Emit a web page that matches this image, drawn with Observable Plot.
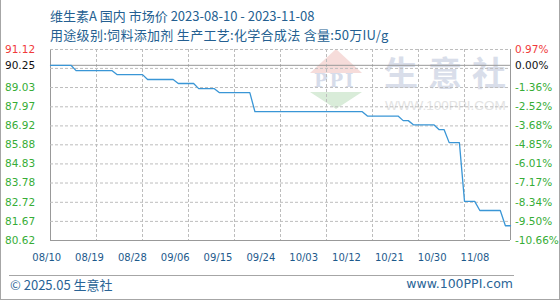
<!DOCTYPE html>
<html><head><meta charset="utf-8">
<script src="https://cdn.jsdelivr.net/npm/d3@7"></script>
<script src="https://cdn.jsdelivr.net/npm/@observablehq/plot@0.6"></script>
<style>
body{margin:0;background:#fff;}
#wrap{position:relative;width:560px;height:300px;overflow:hidden;font-family:"Noto Sans CJK SC",sans-serif;background:#fff;}
#bd{position:absolute;left:0;top:0;width:560px;height:300px;box-sizing:border-box;border:1px solid #a6a6a6;border-top:none;pointer-events:none;}
.t{position:absolute;left:50px;color:#245f91;font-size:13px;white-space:nowrap;line-height:1;}
#wm{position:absolute;left:50px;top:49px;width:460px;height:191px;}
.tri-up{position:absolute;left:260px;top:0px;width:0;height:0;border-left:26px solid transparent;border-right:26px solid transparent;border-bottom:24px solid #f6dcda;}
.tri-dn{position:absolute;left:260px;top:43px;width:0;height:0;border-left:26px solid transparent;border-right:26px solid transparent;border-top:17px solid #d9ecd9;}
.ppi{position:absolute;left:264px;top:23px;font-family:"DejaVu Serif",serif;font-weight:bold;font-size:18px;color:#d6dcea;letter-spacing:2px;line-height:1;}
.wmc{position:absolute;left:334px;top:4px;font-size:34px;color:#d9deea;line-height:1.1;font-weight:bold;white-space:nowrap;}
.wmu{position:absolute;left:335px;top:50px;font-family:"Liberation Sans",sans-serif;font-size:13.5px;color:#e3e3e3;white-space:nowrap;line-height:1;}
#chart{position:absolute;left:0;top:0;}
#xax{position:absolute;left:0;top:249px;}
#sep{position:absolute;left:9px;top:275px;width:505px;height:1px;background:#a6a6a6;}
.ft{position:absolute;top:278px;color:#2a6496;font-size:13px;line-height:1;white-space:nowrap;}
</style></head><body>
<div id="wrap">
  <div id="wm">
    <div class="tri-up"></div><div class="ppi">PPI</div><div class="tri-dn"></div>
    <div class="wmc"><span style="letter-spacing:10px">生意</span>社</div>
    <div class="wmu">WWW.100PPI.COM</div>
  </div>
  <div class="t" style="top:9px">维生素A 国内 市场价 2023-08-10 - 2023-11-08</div>
  <div class="t" style="top:28px;letter-spacing:0.3px">用途级别:饲料添加剂 生产工艺:化学合成法 含量:50万IU/g</div>
  <div id="chart"></div>
  <div id="xax"></div>
  <div id="sep"></div>
  <div class="ft" style="left:10px">© 2025.05 生意社</div>
  <div class="ft" style="right:47px;font-family:'DejaVu Sans',sans-serif;font-size:12.5px">www.100PPI.com</div>
  <div id="bd"></div>
</div>
<script>
// ---- data ----
const dates = ["2023-08-10","2023-08-14","2023-08-15","2023-08-22","2023-08-23","2023-08-28","2023-08-29","2023-09-03","2023-09-04","2023-09-07","2023-09-08","2023-09-11","2023-09-12","2023-09-18","2023-09-19","2023-10-10","2023-10-11","2023-10-17","2023-10-18","2023-10-19","2023-10-20","2023-10-24","2023-10-25","2023-10-26","2023-10-27","2023-10-29","2023-10-30","2023-11-01","2023-11-02","2023-11-06","2023-11-07","2023-11-08"];
const prices = [90.25,90.25,89.96,89.96,89.74,89.74,89.47,89.47,89.25,89.25,88.97,88.97,88.75,88.75,87.70,87.70,87.46,87.46,87.21,87.21,86.98,86.98,86.72,86.72,86.00,86.00,82.77,82.77,82.27,82.27,81.43,81.43];

const xTickDates = ["2023-08-10","2023-08-19","2023-08-28","2023-09-06","2023-09-15","2023-09-24","2023-10-03","2023-10-12","2023-10-21","2023-10-30","2023-11-08"];
const xTickLabels = ["08/10","08/19","08/28","09/06","09/15","09/24","10/03","10/12","10/21","10/30","11/08"];

const yTickVals = [91.12,90.25,89.03,87.97,86.92,85.88,84.83,83.78,82.72,81.67,80.62];
const yLeftLabels = ["91.12","90.25","89.03","87.97","86.92","85.88","84.83","83.78","82.72","81.67","80.62"];
const yRightLabels = ["0.97%","0.00%","-1.36%","-2.52%","-3.68%","-4.85%","-6.01%","-7.17%","-8.34%","-9.50%","-10.66%"];
const yGridVals = [91.12,90.08,89.03,87.97,86.92,85.88,84.83,83.78,82.72,81.67];
const baseValue = 90.25;

// ---- build ----
const series = dates.map((d,i)=>({date:new Date(d+"T00:00:00Z"), price:prices[i]}));
const ticks = xTickDates.map((d,i)=>({date:new Date(d+"T00:00:00Z"), label:xTickLabels[i]}));
const yLabels = yTickVals.map((v,i)=>({v, left:yLeftLabels[i], right:yRightLabels[i], color: i===0 ? "#f03a3a" : (i===1 ? "#111" : "#36ad36")}));
const xDomain = [ticks[0].date, ticks[ticks.length-1].date];
const yDomain = [yTickVals[yTickVals.length-1], yTickVals[0]];
const gridDates = ticks.slice(1,-1).map(t=>t.date);

const gridStyle = {stroke:"#bdbdbd", strokeWidth:1, strokeDasharray:"3,2"};
const frameStyle = {stroke:"#999", strokeWidth:1};

const chart = Plot.plot({
  width:560, height:270,
  marginTop:49, marginBottom:30, marginLeft:50, marginRight:50,
  x:{type:"utc", domain:xDomain, axis:null},
  y:{domain:yDomain, axis:null},
  style:{background:"transparent", fontFamily:"DejaVu Sans, sans-serif", fontSize:"10.5px", overflow:"visible"},
  marks:[
    Plot.ruleX(xDomain, frameStyle),
    Plot.ruleY([yDomain[0]], frameStyle),
    Plot.ruleY(yGridVals, gridStyle),
    Plot.ruleX(gridDates, gridStyle),
    Plot.ruleY([baseValue], frameStyle),
    Plot.line(series, {x:"date", y:"price", stroke:"#3a96d6", strokeWidth:1.3}),
    Plot.text(yLabels, {y:"v", text:"left", fill:"color", frameAnchor:"left", textAnchor:"start", dx:-45.5}),
    Plot.text(yLabels, {y:"v", text:"right", fill:"color", frameAnchor:"right", textAnchor:"start", dx:4.5})
  ]
});
document.getElementById("chart").append(chart);

const xax = Plot.plot({
  width:560, height:16,
  marginTop:0, marginBottom:0, marginLeft:46.2, marginRight:85.5,
  x:{type:"utc", domain:xDomain, axis:null},
  style:{background:"transparent", fontFamily:"DejaVu Sans, sans-serif", fontSize:"10px"},
  marks:[
    Plot.text(ticks, {x:"date", text:"label", frameAnchor:"middle", fill:"#1d5a8c"})
  ]
});
document.getElementById("xax").append(xax);
</script>
</body></html>
